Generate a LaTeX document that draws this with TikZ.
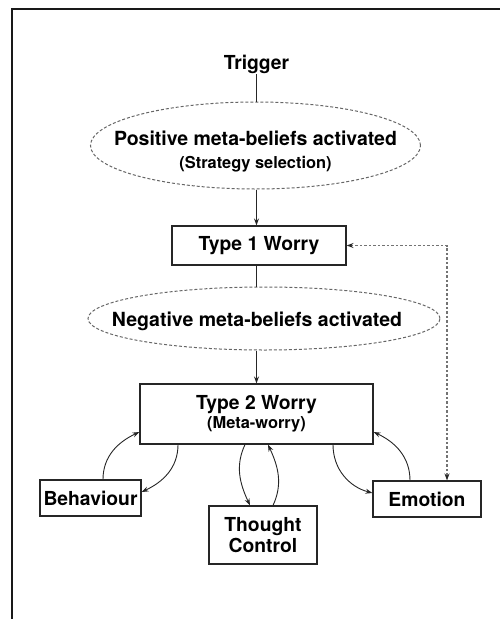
\documentclass[tikz,border=0pt]{standalone}
\usepackage{fontspec}
\setmainfont{TeX Gyre Heros}
\usetikzlibrary{shapes.geometric,arrows.meta,calc}
\tikzset{
  big/.style={font=\fontsize{19.3}{21}\selectfont\bfseries},
  ellfont/.style={font=\fontsize{19.5}{23}\selectfont\bfseries},
  boxnode/.style={draw=black!85,line width=1.1pt,inner sep=0pt,align=center,big},
  ellnode/.style={ellipse,draw=black!60,line width=1pt,dash pattern=on 3pt off 2pt,inner sep=0pt},
  conn/.style={draw=black!85,line width=0.9pt},
  arr/.style={conn,-{Stealth[length=7pt,width=5pt]}},
  dotline/.style={draw=black!55,line width=1.3pt,dash pattern=on 2.5pt off 2pt,{Stealth[length=7pt,width=5pt,black!85]}-{Stealth[length=7pt,width=5pt,black!85]}}
}
\newcommand{\smalltxt}[1]{{\fontsize{16.4}{19}\selectfont\bfseries #1}}
\begin{document}
\begin{tikzpicture}[x=1pt,y=-1pt]
\useasboundingbox (0,0) rectangle (500,619);
\draw[line width=2pt,black!90] (500,8.5) -| (12,619);

\node[big,inner sep=1pt] (trig) at (256.5,64) {Trigger};
\node[ellnode,minimum width=330pt,minimum height=87pt,
  label={[ellfont,align=center,yshift=-6pt]center:Positive meta-beliefs activated\\\smalltxt{(Strategy selection)}}] (e1) at (255.5,145.5) {};
\node[boxnode,minimum width=174pt,minimum height=39pt] (t1) at (259,245.5) {Type 1 Worry};
\node[ellnode,minimum width=352pt,minimum height=63pt,
  label={[ellfont,xshift=-7pt,yshift=-3pt]center:Negative meta-beliefs activated}] (e2) at (264,318.5) {};
\node[boxnode,minimum width=233pt,minimum height=60pt] (t2) at (256.5,414)
  {Type 2 Worry\\[-2pt]\smalltxt{(Meta-worry)}};
\node[boxnode,minimum width=101pt,minimum height=36pt] (beh) at (90.5,498) {Behaviour};
\node[boxnode,minimum width=108pt,minimum height=58pt] (th) at (263,535) {Thought\\Control};
\node[boxnode,minimum width=108pt,minimum height=36pt] (em) at (427,499) {Emotion};

\draw[conn] (trig.south) -- (trig.south |- e1.north);
\draw[arr] (trig.south |- e1.south) -- (trig.south |- t1.north);
\draw[conn] (trig.south |- t1.south) -- (trig.south |- e2.north);
\draw[arr] (trig.south |- e2.south) -- (trig.south |- t2.north);

\draw[arr] ([xshift=12.5pt]beh.north) to[out=90,in=-155] ([yshift=-18pt]t2.west);
\draw[arr] ([xshift=-78.5pt]t2.south) to[out=-90,in=25] ([yshift=6pt]beh.east);
\draw[arr] ([xshift=-11.5pt]t2.south) to[out=-115,in=115] ([xshift=-13pt]th.north);
\draw[arr] ([xshift=10pt]th.north) to[out=65,in=-65] ([xshift=11.5pt]t2.south);
\draw[arr] ([xshift=76.5pt]t2.south) to[out=-90,in=165] ([yshift=6pt]em.west);
\draw[arr] ([xshift=-17pt]em.north) to[out=90,in=-25] ([yshift=-18pt]t2.east);

\draw[dotline] (t1.east) -| ([xshift=20pt]em.north);
\end{tikzpicture}
\end{document}
